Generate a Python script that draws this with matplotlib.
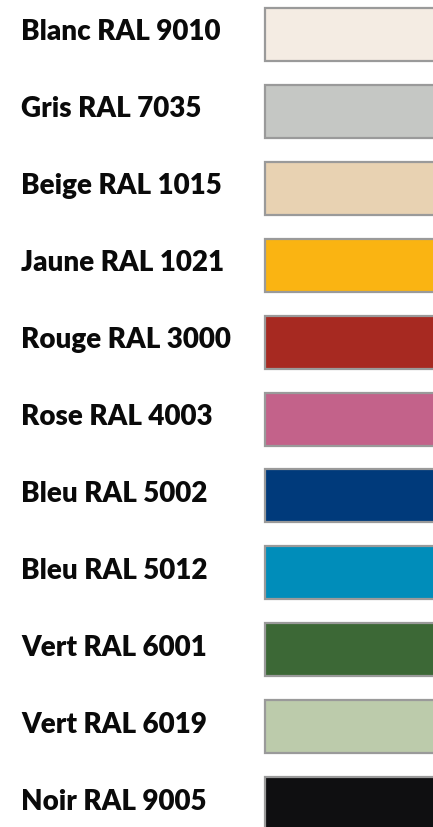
import matplotlib
matplotlib.use("Agg")
import matplotlib.pyplot as plt
import numpy as np

labels = [
    "Blanc RAL 9010",
    "Gris RAL 7035",
    "Beige RAL 1015",
    "Jaune RAL 1021",
    "Rouge RAL 3000",
    "Rose RAL 4003",
    "Bleu RAL 5002",
    "Bleu RAL 5012",
    "Vert RAL 6001",
    "Vert RAL 6019",
    "Noir RAL 9005",
]
colors = [
    "#f4ece3",
    "#c5c7c4",
    "#e8d2b2",
    "#fab412",
    "#a72921",
    "#c3628a",
    "#003a7b",
    "#008dba",
    "#3c6836",
    "#bccbab",
    "#0f0f11",
]

W, H = 433, 827
fig = plt.figure(figsize=(W / 100, H / 100), dpi=100)
ax = fig.add_axes([0, 0, 1, 1])
ax.set_xlim(0, W)
ax.set_ylim(H, 0)
ax.axis("off")

rows = np.arange(len(labels))
centers = 34.5 + 76.9 * rows
ax.barh(centers, 220, left=265, height=53, color=colors,
        edgecolor="#9a9a9a", linewidth=1.6)

for yc, lab in zip(centers, labels):
    ax.text(21, yc - 2, lab, ha="left", va="center", fontsize=20,
            fontweight="heavy", family="Lato", color="#0a0a0a")

fig.savefig("out.png", dpi=100)
